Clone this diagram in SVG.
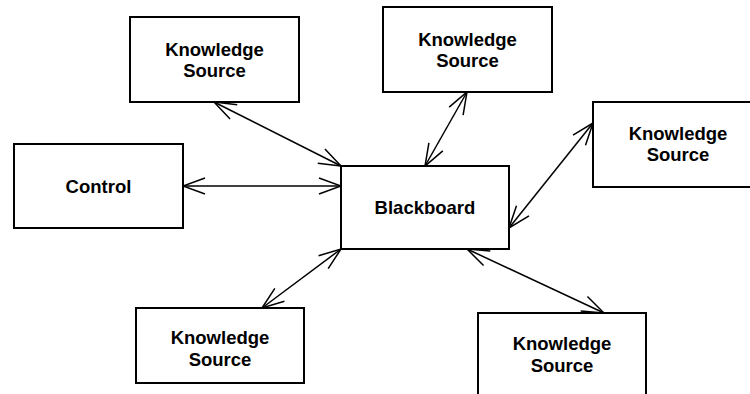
<svg xmlns="http://www.w3.org/2000/svg" width="750" height="394" viewBox="0 0 750 394">
<style>
.box{fill:#fff;stroke:#000;stroke-width:2}
.lbl{font-family:"Liberation Sans",Arial,sans-serif;font-weight:bold;font-size:18.5px;text-anchor:middle;fill:#000}
.con{stroke:#000;stroke-width:1.5;fill:none;marker-start:url(#ah);marker-end:url(#ah)}
</style>
<defs>
<marker id="ah" markerUnits="userSpaceOnUse" viewBox="-24 -10 26 20" refX="0" refY="0" markerWidth="26" markerHeight="20" orient="auto-start-reverse">
<path d="M-22,-8 L0,0 L-22,8" fill="none" stroke="#000" stroke-width="1.5"/>
</marker>
</defs>
<rect width="750" height="394" fill="#fff"/>
<g id="connectors">
<line class="con" x1="214" y1="102" x2="341" y2="166"/>
<line class="con" x1="183" y1="186" x2="341" y2="186"/>
<line class="con" x1="467" y1="92" x2="425" y2="166"/>
<line class="con" x1="593" y1="123" x2="509" y2="228"/>
<line class="con" x1="341" y1="249" x2="262" y2="308"/>
<line class="con" x1="467" y1="249" x2="604" y2="313"/>
</g>
<g id="ks1">
<rect class="box" x="130" y="17" width="169" height="85"/>
<text class="lbl" x="214.5" y="56">Knowledge</text>
<text class="lbl" x="214.5" y="77">Source</text>
</g>
<g id="ks2">
<rect class="box" x="383" y="7" width="169" height="85"/>
<text class="lbl" x="467.5" y="45.5">Knowledge</text>
<text class="lbl" x="467.5" y="66.5">Source</text>
</g>
<g id="ks3">
<rect class="box" x="593" y="102" width="169" height="85"/>
<text class="lbl" x="678" y="139.5">Knowledge</text>
<text class="lbl" x="678" y="161">Source</text>
</g>
<g id="control">
<rect class="box" x="14" y="144" width="169" height="84"/>
<text class="lbl" x="98.5" y="193">Control</text>
</g>
<g id="blackboard">
<rect class="box" x="341" y="166" width="168" height="83"/>
<text class="lbl" x="425" y="214">Blackboard</text>
</g>
<g id="ks4">
<rect class="box" x="136" y="308" width="168" height="75"/>
<text class="lbl" x="220" y="344">Knowledge</text>
<text class="lbl" x="220" y="366">Source</text>
</g>
<g id="ks5">
<rect class="box" x="478" y="313" width="168" height="90"/>
<text class="lbl" x="562" y="350">Knowledge</text>
<text class="lbl" x="562" y="371.5">Source</text>
</g>
</svg>
